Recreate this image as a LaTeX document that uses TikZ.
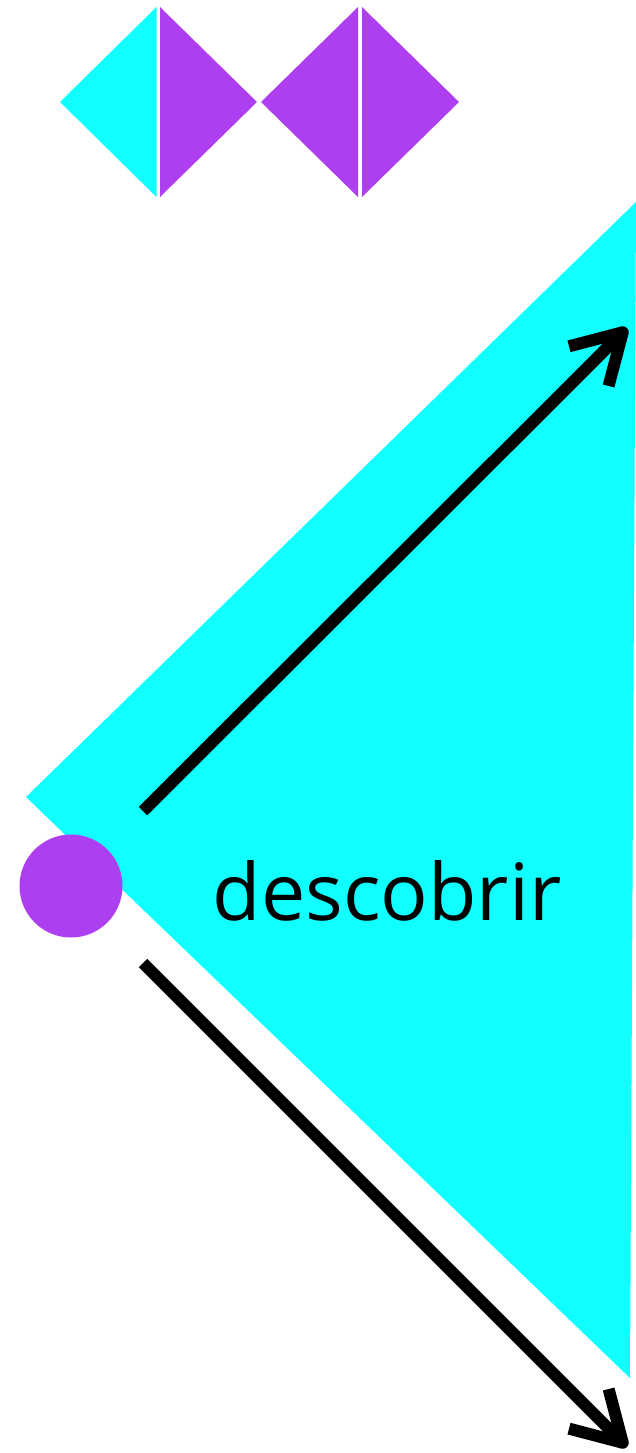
\documentclass[tikz,border=0pt]{standalone}
\usepackage{fontspec}
\setmainfont{Open Sans}
\usetikzlibrary{arrows.meta}
\definecolor{cyanfill}{RGB}{16,255,255}
\definecolor{purplefill}{RGB}{174,63,240}
\tikzset{
  cyanpart/.style={fill=cyanfill, draw=none},
  purplepart/.style={fill=purplefill, draw=none},
  bigarrow/.style={line width=12pt, -{Straight Barb[length=48pt,width=56pt,line join=round]}},
  labeltext/.style={font=\fontsize{79}{90}\selectfont, inner sep=0pt, anchor=base}
}
\begin{document}
\begin{tikzpicture}[x=1pt,y=-1pt]
\useasboundingbox (0,0) rectangle (636,1453);
% small diamonds
\fill[cyanpart] (60,102) -- (156.5,7) -- (156.5,197) -- cycle;
\fill[purplepart] (160,7) -- (160,197) -- (257,102) -- cycle;
\fill[purplepart] (261,102) -- (358,7) -- (358,197) -- cycle;
\fill[purplepart] (362,7) -- (362,197) -- (459,102) -- cycle;
% big triangle
\fill[cyanpart] (26,797) -- (636,202) -- (630,1378) -- cycle;
% circle
\node[circle, fill=purplefill, minimum size=103pt, inner sep=0pt] (dot) at (71,886) {};
% arrows
\coordinate (s1) at (143,811);
\coordinate (e1) at (627,328);
\coordinate (s2) at (143,963);
\coordinate (e2) at (627,1447);
\draw[bigarrow] (s1) -- (e1);
\draw[bigarrow] (s2) -- (e2);
% label
\node[labeltext] (lbl) at (387,920) {descobrir};
\end{tikzpicture}
\end{document}
